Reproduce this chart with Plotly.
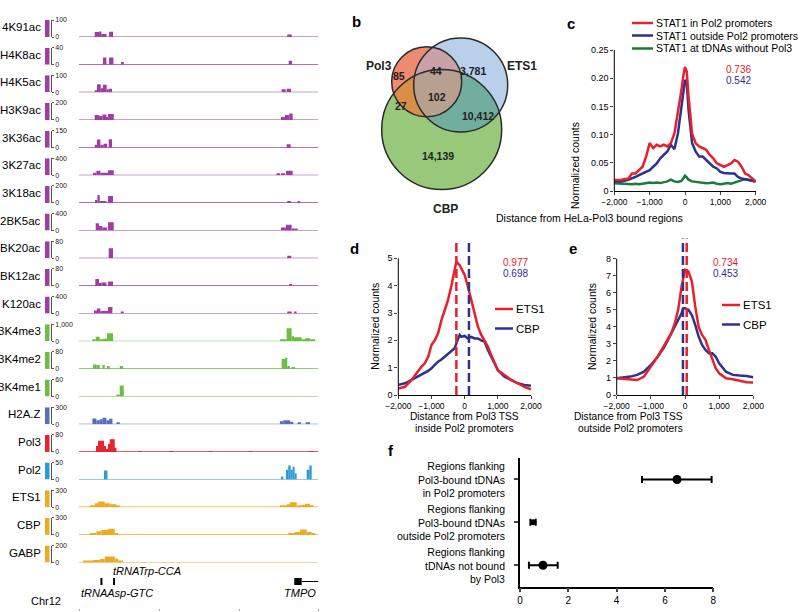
import math
import plotly.graph_objects as go

W, H = 800, 612
FONT = "Liberation Sans, Arial, sans-serif"

# ---------------- panel a: browser tracks ----------------
TRACK_NAMES = ["4K91ac", "H4K8ac", "H4K5ac", "H3K9ac", "3K36ac", "3K27ac", "3K18ac",
               "2BK5ac", "BK20ac", "BK12ac", "K120ac", "3K4me3", "3K4me2", "3K4me1",
               "H2A.Z", "Pol3", "Pol2", "ETS1", "CBP", "GABP"]
TRACK_SCALES = [100, 40, 100, 200, 150, 400, 200, 400, 80, 80, 400, 1000, 80, 60,
                300, 80, 50, 300, 300, 200]

# peaks: (start, end, height) ; position in browser units (0-239)
K91AC = [(15.7, 20, 29), (20, 22.4, 33), (22.4, 27.4, 18), (30, 34, 31), (208, 212.4, 15)]
K8AC = [(24, 27.4, 17), (30, 34.4, 17), (42, 44.7, 6), (209.4, 212.7, 9)]
K5AC = [(15.7, 18, 12), (18, 21.7, 47), (21.7, 24, 24), (24, 27.7, 44), (27.7, 29.7, 18),
        (29.7, 33, 21), (202.4, 206.4, 18), (207.4, 211.7, 21)]
K9AC = [(15.7, 20, 59), (20, 23.4, 47), (23.4, 27.4, 65), (27.4, 29, 35), (29, 34.7, 71),
        (201.7, 205.7, 35), (205.7, 210, 59), (210, 213.4, 76)]
K36AC = [(15.7, 18, 26), (18, 21.4, 71), (21.4, 24.7, 26), (24.7, 28, 35), (29.7, 33, 73),
         (207.4, 211.4, 29)]
K27AC = [(14, 17.4, 59), (17.4, 21.4, 106), (21.4, 29, 59), (29, 34.7, 118),
         (197.4, 200.7, 35), (201.7, 205.7, 47), (206.7, 213.4, 106)]
K18AC = [(16.7, 18.4, 35), (18.4, 20.7, 94), (20.7, 27.4, 24), (29, 34, 82),
         (208, 211.7, 18), (218.4, 220.7, 12)]
BK5AC = [(16.7, 20, 172), (20, 23.4, 106), (23.4, 28, 71), (29, 34.7, 195),
         (201.7, 206.7, 71), (206.7, 212.4, 141), (212.4, 215, 47), (215, 218.4, 35)]
BK20AC = [(29.7, 34, 47), (208, 212, 12)]
BK12AC = [(16.3, 20, 33), (20, 22.4, 14), (22.4, 27.4, 16.5), (29, 34, 21), (210, 212.7, 9)]
K120AC = [(15, 18, 71), (18, 21.4, 118), (21.4, 29, 59), (29, 33.4, 153), (41.7, 44.7, 24),
          (208, 212.4, 31), (214.7, 217.4, 24)]
K4ME3 = [(13.4, 16.7, 118), (16.7, 20.7, 265), (20.7, 24, 118), (24, 28, 147), (28, 34, 470),
         (200.7, 207.4, 88), (207.4, 212.4, 765), (212.4, 214.7, 294), (214.7, 222.4, 235),
         (222.4, 225.7, 118), (225.7, 230.7, 176), (230.7, 235.7, 88)]
K4ME2 = [(14, 17.4, 21), (17.4, 20.7, 19), (23.4, 25.7, 19), (28, 30.7, 14), (40.7, 44, 14),
         (202.4, 205.7, 47), (205.7, 208, 52), (208, 210.7, 14), (212.4, 215.7, 5)]
K4ME1 = [(37.4, 40.7, 5), (40.7, 44.7, 39)]
H2AZ = [(13.4, 17.4, 100), (17.4, 20.7, 71), (20.7, 23.4, 88), (23.4, 27.4, 115),
        (27.4, 30, 71), (30, 33.4, 97), (37.4, 40.7, 18), (200.7, 204, 53), (204, 210.7, 71),
        (210.7, 214, 44), (218.4, 221.7, 35), (226.4, 230.7, 35)]
POL3 = [(17.4, 19, 28), (19, 25, 52), (25, 26.7, 28), (26.7, 29, 14), (29, 30.7, 38),
        (30.7, 35.7, 59), (35.7, 37.4, 19), (60, 63, 2), (90, 94, 2), (130, 133, 2),
        (170, 173, 2), (230, 234, 2)]
POL2 = [(25, 28.4, 27), (201.7, 204, 9), (206.7, 209, 29), (209, 211.4, 41), (211.4, 213.4, 29),
        (213.4, 215.4, 38), (215.4, 217.4, 18), (227.4, 230, 29), (230, 232.4, 41)]
ETS1 = [(10.7, 15.7, 18), (15.7, 19, 71), (19, 25.7, 100), (25.7, 30.7, 71), (30.7, 37.4, 53),
        (37.4, 40.7, 18), (200.7, 207.4, 26), (207.4, 210.7, 53), (210.7, 217.4, 88),
        (217.4, 222.4, 26), (222.4, 225.7, 44), (225.7, 230.7, 62), (230.7, 234, 18)]
CBP = [(10.7, 17.4, 26), (17.4, 22.4, 62), (22.4, 29, 88), (29, 35.7, 106), (35.7, 39, 18),
       (209, 215.7, 35), (215.7, 220.7, 53), (220.7, 227.4, 97), (227.4, 232.4, 53),
       (232.4, 235.7, 18)]
GABP = [(4, 14, 12), (14, 20.7, 29), (20.7, 25.7, 41), (25.7, 35.7, 71), (35.7, 39, 47),
        (39, 44, 12)]
TRACK_PEAKS = [K91AC, K8AC, K5AC, K9AC, K36AC, K27AC, K18AC, BK5AC, BK20AC, BK12AC, K120AC,
               K4ME3, K4ME2, K4ME1, H2AZ, POL3, POL2, ETS1, CBP, GABP]

TRNA_POS = [22.4, 35.0]
TMPO_EXON = [215.0, 222.4]
TMPO_END = 239.0

PURPLE, GREEN = "#a13ca5", "#6dbd45"
TRACK_COLORS = [PURPLE] * 11 + [GREEN] * 3 + ["#5b6cbf", "#e8232b", "#2b9ad5"] + ["#eeaa22"] * 3

# ---------------- panel b: venn ----------------
VENN_SETS = ["Pol3", "ETS1", "CBP"]
VENN_COUNTS = {"85": (399, 68), "44": (436, 63), "3,781": (473, 63), "102": (437, 89),
               "27": (401, 98), "10,412": (478, 108), "14,139": (438, 148)}

# ---------------- panel c ----------------
C_X = [-2000, -1800, -1600, -1500, -1400, -1300, -1200, -1100, -1000, -900, -800, -700, -600,
       -500, -400, -300, -200, -100, -50, 0, 50, 100, 200, 300, 400, 500, 600, 700, 800, 900,
       1000, 1100, 1200, 1300, 1400, 1500, 1600, 1700, 1800, 1900, 2000]
C_IN = [0.0195, 0.02, 0.022, 0.031, 0.031, 0.037, 0.043, 0.061, 0.085, 0.076, 0.082, 0.079,
        0.082, 0.079, 0.085, 0.102, 0.138, 0.179, 0.203, 0.22, 0.212, 0.167, 0.102, 0.085,
        0.079, 0.076, 0.073, 0.064, 0.058, 0.049, 0.046, 0.043, 0.046, 0.049, 0.055, 0.052,
        0.043, 0.031, 0.028, 0.022, 0.017]
C_OUT = [0.017, 0.017, 0.02, 0.022, 0.025, 0.028, 0.031, 0.034, 0.037, 0.043, 0.049, 0.058,
         0.064, 0.07, 0.082, 0.074, 0.102, 0.15, 0.178, 0.197, 0.191, 0.144, 0.085, 0.07,
         0.061, 0.061, 0.055, 0.049, 0.043, 0.04, 0.034, 0.032, 0.031, 0.031, 0.031, 0.025,
         0.022, 0.021, 0.02, 0.019, 0.017]
C_NOPOL3 = [0.0136, 0.013, 0.012, 0.012, 0.013, 0.012, 0.013, 0.014, 0.015, 0.014, 0.015,
            0.014, 0.015, 0.017, 0.02, 0.017, 0.016, 0.018, 0.022, 0.027, 0.024, 0.02, 0.017,
            0.016, 0.015, 0.014, 0.0136, 0.014, 0.015, 0.013, 0.012, 0.013, 0.014, 0.013,
            0.015, 0.017, 0.02, 0.021, 0.02, 0.018, 0.017]
C_LEGEND = ["STAT1 in Pol2 promoters", "STAT1 outside Pol2 promoters", "STAT1 at tDNAs without Pol3"]
C_CORR = ["0.736", "0.542"]

# ---------------- panel d ----------------
D_X = [-2000, -1800, -1600, -1400, -1300, -1200, -1100, -1000, -900, -800, -700, -600, -500,
       -400, -300, -250, -150, -100, 0, 100, 200, 300, 400, 500, 600, 700, 800, 900, 1000,
       1200, 1400, 1600, 1800, 2000]
D_ETS1 = [0.24, 0.3, 0.55, 0.9, 1.04, 1.16, 1.4, 1.83, 2.0, 2.26, 2.74, 3.1, 3.48, 4.0, 4.57,
          4.88, 4.75, 4.63, 4.39, 3.96, 3.48, 2.99, 2.5, 2.2, 2.0, 1.77, 1.46, 1.16, 0.91,
          0.73, 0.55, 0.43, 0.3, 0.21]
D_CBP = [0.37, 0.43, 0.55, 0.67, 0.73, 0.79, 0.88, 0.98, 1.1, 1.22, 1.3, 1.4, 1.5, 1.59, 1.71,
         1.89, 2.2, 2.13, 2.16, 2.07, 2.13, 2.07, 2.07, 2.0, 1.95, 1.65, 1.4, 1.16, 0.91, 0.67,
         0.55, 0.43, 0.37, 0.34]
D_PEAKS = [-250, 130]  # ETS1, CBP
D_CORR = ["0.977", "0.698"]

# ---------------- panel e ----------------
E_X = [-2000, -1600, -1400, -1200, -1000, -800, -600, -400, -300, -200, -100, -50, 0, 100, 200,
       300, 400, 500, 600, 700, 800, 900, 1000, 1200, 1400, 1600, 1800, 2000]
E_ETS1 = [0.98, 0.92, 0.88, 1.08, 1.67, 2.25, 2.94, 3.63, 4.2, 5.0, 6.37, 6.9, 7.35, 7.25, 6.67,
          5.2, 4.0, 3.53, 3.24, 2.65, 2.06, 1.57, 1.27, 0.98, 0.92, 0.84, 0.75, 0.73]
E_CBP = [0.98, 1.08, 1.18, 1.37, 1.76, 2.25, 2.84, 3.63, 4.02, 4.41, 4.8, 5.1, 5.1, 5.0, 4.7,
         4.12, 3.43, 2.94, 2.65, 2.45, 2.45, 2.25, 1.86, 1.37, 1.18, 1.14, 1.12, 1.04]
E_PEAKS = [50, -60]  # ETS1, CBP
E_CORR = ["0.734", "0.453"]

# ---------------- panel f ----------------
F_LABELS = ["Regions flanking<br>Pol3-bound tDNAs<br>in Pol2 promoters",
            "Regions flanking<br>Pol3-bound tDNAs<br>outside Pol2 promoters",
            "Regions flanking<br>tDNAs not bound<br>by Pol3"]
F_VALUE = [6.5, 0.55, 0.95]
F_LOW = [5.05, 0.43, 0.37]
F_HIGH = [7.93, 0.65, 1.56]

RED, BLUE, DKGREEN = "#e8202a", "#2e3192", "#1b7a3c"
XT_VALS = [-2000, -1000, 0, 1000, 2000]
XT_TEXT = ["\u22122,000", "\u22121,000", "0", "1,000", "2,000"]


def px(x):
    return x / W


def py(y):
    return 1 - y / H


fig = go.Figure()
shapes, annotations = [], []
layout = dict(width=W, height=H, autosize=False,
              margin=dict(l=0, r=0, t=0, b=0, pad=0, autoexpand=False),
              paper_bgcolor="white", plot_bgcolor="white", showlegend=False,
              barmode="overlay", font=dict(family=FONT, color="black"))

# ---- tracks ----
layout["xaxis"] = dict(domain=[px(79), px(318.3)], range=[0, 239], anchor="free",
                       position=py(608), showline=False, showgrid=False, zeroline=False,
                       ticks="outside", ticklen=2, tickcolor="#aaa", tickvals=[0, 80, 160, 239],
                       showticklabels=False, fixedrange=True, automargin=False)
for i, name in enumerate(TRACK_NAMES):
    n = i + 1
    yref = "y" if n == 1 else f"y{n}"
    key = "yaxis" if n == 1 else f"yaxis{n}"
    base = 37 + i * 27.66
    scale = TRACK_SCALES[i]
    color = TRACK_COLORS[i]
    layout[key] = dict(domain=[py(base), py(base - 17)], range=[0, scale], anchor="free",
                       position=px(51), side="right", showline=True, linecolor="#555",
                       linewidth=0.8, ticks="outside", ticklen=2, tickwidth=0.8,
                       tickcolor="#555", tickvals=[0, scale], ticktext=["0", f"{scale:,}"],
                       tickfont=dict(size=7, color="#222"), showgrid=False, zeroline=False,
                       fixedrange=True, automargin=False)
    pk = TRACK_PEAKS[i]
    fig.add_trace(go.Bar(x=[(s + e) / 2 for s, e, h in pk], y=[h for s, e, h in pk],
                         width=[e - s for s, e, h in pk], xaxis="x", yaxis=yref,
                         marker=dict(color=color, line=dict(width=0)), hoverinfo="skip"))
    shapes.append(dict(type="line", xref="x", yref=yref, x0=0, x1=239, y0=0, y1=0,
                       line=dict(color=color, width=1.2)))
    shapes.append(dict(type="rect", xref="paper", yref=yref, x0=px(45), x1=px(49.5),
                       y0=0, y1=scale, fillcolor=color, line=dict(width=0)))
    annotations.append(dict(text=name, xref="paper", yref="paper", x=px(43), y=py(base - 10),
                            xanchor="right", yanchor="middle", showarrow=False,
                            font=dict(size=11.5)))

# gene annotation
for t in TRNA_POS:
    shapes.append(dict(type="line", xref="x", yref="paper", x0=t, x1=t, y0=py(585), y1=py(578),
                       line=dict(color="black", width=2)))
shapes.append(dict(type="rect", xref="x", yref="paper", x0=TMPO_EXON[0], x1=TMPO_EXON[1],
                   y0=py(585), y1=py(578), fillcolor="black", line=dict(width=0)))
shapes.append(dict(type="line", xref="x", yref="paper", x0=TMPO_EXON[1], x1=TMPO_END,
                   y0=py(581.5), y1=py(581.5), line=dict(color="black", width=1)))
annotations += [
    dict(text="<i>tRNATrp-CCA</i>", xref="x", yref="paper", x=TRNA_POS[1] - 3, y=py(571),
         xanchor="left", yanchor="middle", showarrow=False, font=dict(size=11)),
    dict(text="<i>tRNAAsp-GTC</i>", xref="x", yref="paper", x=0, y=py(593),
         xanchor="left", yanchor="middle", showarrow=False, font=dict(size=11)),
    dict(text="<i>TMPO</i>", xref="x", yref="paper", x=TMPO_END, y=py(593),
         xanchor="right", yanchor="middle", showarrow=False, font=dict(size=11)),
    dict(text="Chr12", xref="paper", yref="paper", x=px(45.5), y=py(601),
         xanchor="center", yanchor="middle", showarrow=False, font=dict(size=11)),
]

# ---- venn ----
CIRCLES = [(426.7, 81.7, 35), (460.7, 85, 47), (441.7, 129.5, 60)]
FILLS = ["#ee8a6f", "#b8d0ea", "#98c87a"]


def circle_points(c, n=720):
    cx, cy, r = c
    return [(cx + r * math.cos(2 * math.pi * k / n), cy + r * math.sin(2 * math.pi * k / n))
            for k in range(n)]


def inside(p, c):
    return (p[0] - c[0]) ** 2 + (p[1] - c[1]) ** 2 <= c[2] ** 2 + 0.05


def region_path(circles):
    pts = []
    for i, c in enumerate(circles):
        others = circles[:i] + circles[i + 1:]
        pts += [p for p in circle_points(c) if all(inside(p, o) for o in others)]
    mx = sum(p[0] for p in pts) / len(pts)
    my = sum(p[1] for p in pts) / len(pts)
    pts.sort(key=lambda p: math.atan2(p[1] - my, p[0] - mx))
    return "M " + " L ".join(f"{px(x):.5f},{py(y):.5f}" for x, y in pts) + " Z"


for c, f in zip(CIRCLES, FILLS):
    shapes.append(dict(type="circle", xref="paper", yref="paper", x0=px(c[0] - c[2]),
                       x1=px(c[0] + c[2]), y0=py(c[1] + c[2]), y1=py(c[1] - c[2]),
                       fillcolor=f, line=dict(width=0)))
for idx, f in [((1, 2), "#72ae9e"), ((0, 1), "#c9a1a9"), ((0, 2), "#d98f48"),
               ((0, 1, 2), "#b7a08f")]:
    shapes.append(dict(type="path", xref="paper", yref="paper",
                       path=region_path([CIRCLES[k] for k in idx]), fillcolor=f,
                       line=dict(width=0)))
for c in CIRCLES:
    shapes.append(dict(type="circle", xref="paper", yref="paper", x0=px(c[0] - c[2]),
                       x1=px(c[0] + c[2]), y0=py(c[1] + c[2]), y1=py(c[1] - c[2]),
                       line=dict(color="#2a2a2a", width=1.5)))
for t, (x, y) in VENN_COUNTS.items():
    annotations.append(dict(text=f"<b>{t}</b>", xref="paper", yref="paper", x=px(x), y=py(y),
                            showarrow=False, font=dict(size=10.5, color="#222")))
for t, (x, y) in zip(VENN_SETS, [(379, 57), (522, 57), (445, 200)]):
    annotations.append(dict(text=f"<b>{t}</b>", xref="paper", yref="paper", x=px(x), y=py(y),
                            showarrow=False, font=dict(size=12, color="#222")))


# ---- profile panels ----
def profile_axes(n, xd, yd, yrange, tvals, ttext):
    layout[f"xaxis{n}"] = dict(domain=[px(xd[0]), px(xd[1])], range=[-2000, 2000],
                               anchor=f"y{n}", showline=True, linecolor="black", linewidth=1,
                               ticks="outside", ticklen=3, tickvals=XT_VALS, ticktext=XT_TEXT,
                               tickfont=dict(size=8.5), showgrid=False, zeroline=False,
                               automargin=False)
    layout[f"yaxis{n}"] = dict(domain=[py(yd[0]), py(yd[1])], range=yrange, anchor=f"x{n}",
                               showline=False, ticks="outside", ticklen=3, tickvals=tvals,
                               ticktext=ttext, tickfont=dict(size=9), showgrid=False,
                               zeroline=False, automargin=False)
    shapes.append(dict(type="line", xref=f"x{n} domain", yref=f"y{n}", x0=0, x1=0,
                       y0=0, y1=tvals[-1], line=dict(color="black", width=1)))


# panel c
profile_axes(21, (614.3, 755.7), (191, 50), [0, 0.25],
             [0, 0.05, 0.1, 0.15, 0.2, 0.25], ["0", "0.05", "0.10", "0.15", "0.20", "0.25"])
for ys, col in [(C_NOPOL3, DKGREEN), (C_OUT, BLUE), (C_IN, RED)]:
    fig.add_trace(go.Scatter(x=C_X, y=ys, mode="lines", xaxis="x21", yaxis="y21",
                             line=dict(color=col, width=2.5), hoverinfo="skip"))
for t, col, y in zip(C_LEGEND, [RED, BLUE, DKGREEN], [23, 35.5, 48.5]):
    shapes.append(dict(type="line", xref="paper", yref="paper", x0=px(632), x1=px(653),
                       y0=py(y), y1=py(y), line=dict(color=col, width=2.5)))
    annotations.append(dict(text=t, xref="paper", yref="paper", x=px(654), y=py(y),
                            xanchor="left", yanchor="middle", showarrow=False,
                            font=dict(size=10.5)))
for t, col, y in zip(C_CORR, [RED, BLUE], [0.216, 0.196]):
    annotations.append(dict(text=t, xref="x21", yref="y21", x=1500, y=y, showarrow=False,
                            font=dict(size=10, color=col)))

# panel d
profile_axes(22, (398.3, 531), (395, 239.2), [0, 5.7], [0, 1, 2, 3, 4, 5],
             ["0", "1", "2", "3", "4", "5"])
for ys, col in [(D_CBP, BLUE), (D_ETS1, RED)]:
    fig.add_trace(go.Scatter(x=D_X, y=ys, mode="lines", xaxis="x22", yaxis="y22",
                             line=dict(color=col, width=2.5), hoverinfo="skip"))
for xv, col in zip(D_PEAKS, [RED, BLUE]):
    fig.add_trace(go.Scatter(x=[xv, xv], y=[0, 5.7], mode="lines", xaxis="x22", yaxis="y22",
                             line=dict(color=col, width=2.5, dash="9px,4px"), hoverinfo="skip"))

# panel e
profile_axes(23, (616.7, 753.3), (395, 238.3), [0, 9.2], list(range(9)),
             [str(v) for v in range(9)])
for ys, col in [(E_CBP, BLUE), (E_ETS1, RED)]:
    fig.add_trace(go.Scatter(x=E_X, y=ys, mode="lines", xaxis="x23", yaxis="y23",
                             line=dict(color=col, width=2.5), hoverinfo="skip"))
for xv, col in zip(E_PEAKS, [RED, BLUE]):
    fig.add_trace(go.Scatter(x=[xv, xv], y=[0, 9.2], mode="lines", xaxis="x23", yaxis="y23",
                             line=dict(color=col, width=2.5, dash="9px,4px"), hoverinfo="skip"))

for lx, ly in [(495, 309), (722, 305)]:
    for t, col, dy in [("ETS1", RED, 0), ("CBP", BLUE, 19.5)]:
        shapes.append(dict(type="line", xref="paper", yref="paper", x0=px(lx), x1=px(lx + 18),
                           y0=py(ly + dy), y1=py(ly + dy), line=dict(color=col, width=2.5)))
        annotations.append(dict(text=t, xref="paper", yref="paper", x=px(lx + 19),
                                y=py(ly + dy), xanchor="left", yanchor="middle",
                                showarrow=False, font=dict(size=11.5)))
for corr, x0 in [(D_CORR, 515), (E_CORR, 740)]:
    for t, col, y in zip(corr, [RED, BLUE], [262, 273]):
        annotations.append(dict(text=t, xref="paper", yref="paper", x=px(x0), y=py(y),
                                showarrow=False, font=dict(size=10, color=col)))

# axis titles c, d, e
for t, x, y in [("Normalized counts", 583, 120.5), ("Normalized counts", 375, 326.7),
                ("Normalized counts", 600, 327)]:
    annotations.append(dict(text=t, xref="paper", yref="paper", x=px(x), y=py(y),
                            textangle=-90, showarrow=False, font=dict(size=10.5)))
annotations.append(dict(text="Distance from HeLa-Pol3 bound regions", xref="paper",
                        yref="paper", x=px(685), y=py(217.5), showarrow=False,
                        font=dict(size=10.5)))
for t, x, y in [("Distance from Pol3 TSS", 464.7, 423.5), ("inside Pol2 promoters", 464.7, 435.5),
                ("Distance from Pol3 TSS", 685, 423.5), ("outside Pol2 promoters", 685, 435.5)]:
    annotations.append(dict(text=t, xref="paper", yref="paper", x=px(x), y=py(y),
                            showarrow=False, font=dict(size=10.2)))

# panel f
layout["xaxis24"] = dict(domain=[px(520), px(713.3)], range=[0, 8], anchor="y24",
                         showline=True, linecolor="black", linewidth=1.5, ticks="outside",
                         ticklen=4, tickwidth=1.5, tickvals=[0, 2, 4, 6, 8],
                         tickfont=dict(size=10), showgrid=False, zeroline=False,
                         automargin=False)
layout["yaxis24"] = dict(domain=[py(586.7), py(458)], range=[2.5, -0.5], anchor="x24",
                         showline=True, linecolor="black", linewidth=1.5, ticks="outside",
                         ticklen=4, tickwidth=1.5, tickvals=[0, 1, 2], showticklabels=False,
                         showgrid=False, zeroline=False, automargin=False)
fig.add_trace(go.Scatter(
    x=F_VALUE, y=list(range(len(F_VALUE))), mode="markers", xaxis="x24", yaxis="y24",
    marker=dict(color="black", size=[9, 6, 9], opacity=1, line=dict(width=0)),
    error_x=dict(type="data", symmetric=False,
                 array=[h - v for h, v in zip(F_HIGH, F_VALUE)],
                 arrayminus=[v - l for v, l in zip(F_VALUE, F_LOW)],
                 color="black", thickness=2, width=3.5),
    hoverinfo="skip", cliponaxis=False))
for i, t in enumerate(F_LABELS):
    annotations.append(dict(text=t, xref="paper", yref="y24", x=px(507), y=i, xanchor="right",
                            yanchor="middle", align="right", showarrow=False,
                            font=dict(size=10.5)))

# panel letters
for t, x, y in [("b", 356, 11), ("c", 577, 13), ("d", 354, 248), ("e", 579, 248), ("f", 391, 461)]:
    annotations.append(dict(text=f"<b>{t}</b>", xref="paper", yref="paper", x=px(x), y=py(y),
                            showarrow=False, font=dict(size=15)))

layout["shapes"] = shapes
layout["annotations"] = annotations
fig.update_layout(**layout)
# page body has a default 8px margin; drop it so the 800x612 figure fills the window
fig.write_html("out.html", config={"displayModeBar": False},
               post_script="document.body.style.margin='0px';")
